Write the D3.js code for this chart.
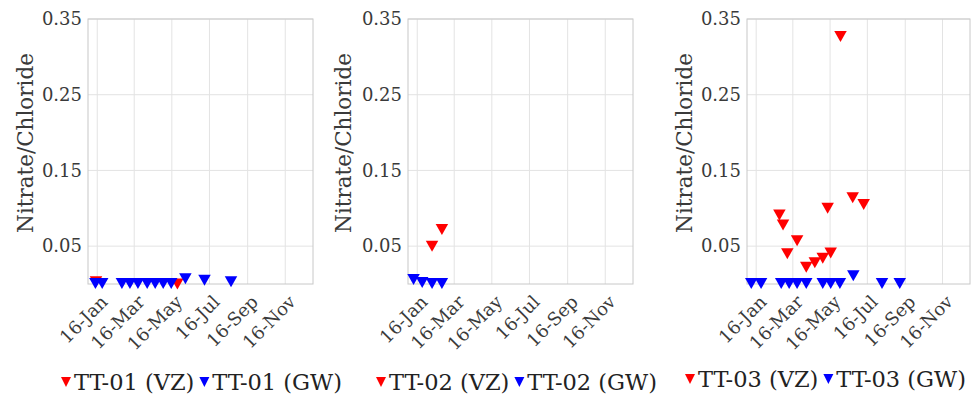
<!DOCTYPE html>
<html><head><meta charset="utf-8">
<script src="https://cdn.jsdelivr.net/npm/d3@7"></script>
<style>
html,body{margin:0;padding:0;background:#fff;}
svg{display:block;}
text{font-family:"DejaVu Serif","Liberation Serif",serif;}
</style></head>
<body>
<svg id="chart" width="971" height="396"></svg>
<script>
// ---------- data ----------
const yTicks = [0.05, 0.15, 0.25, 0.35];
const xTickDates = ["2016-01-01","2016-03-01","2016-05-01","2016-07-01","2016-09-01","2016-11-01"];
const xDomain = ["2015-12-17","2016-12-16"];
const yLabel = "Nitrate/Chloride";

const tt01VZDates = ["2015-12-30","2016-05-10"];
const tt01VZ = [0.003, 0.0];
const tt01GWDates = ["2015-12-29","2016-01-09","2016-02-10","2016-02-23","2016-03-07","2016-03-22","2016-04-04","2016-04-17","2016-04-30","2016-05-23","2016-06-23","2016-08-05"];
const tt01GW = [0.0005,0.0005,0.0005,0.0005,0.0005,0.0005,0.0005,0.0005,0.0005,0.007,0.005,0.003];

const tt02VZDates = ["2016-01-25","2016-02-10"];
const tt02VZ = [0.050, 0.072];
const tt02GWDates = ["2015-12-26","2016-01-09","2016-01-25","2016-02-10"];
const tt02GW = [0.006, 0.002, 0.0005, 0.0005];

const tt03VZDates = ["2016-02-08","2016-02-14","2016-02-21","2016-03-08","2016-03-23","2016-04-06","2016-04-19","2016-04-27","2016-05-02","2016-05-18","2016-06-07","2016-06-25"];
const tt03VZ = [0.091, 0.078, 0.040, 0.057, 0.022, 0.028, 0.034, 0.100, 0.041, 0.327, 0.114, 0.105];
const tt03GWDates = ["2015-12-24","2016-01-09","2016-02-11","2016-02-24","2016-03-08","2016-03-23","2016-04-19","2016-05-02","2016-05-17","2016-06-08","2016-07-25","2016-08-23"];
const tt03GW = [0.0005,0.0005,0.0005,0.0005,0.0005,0.0005,0.0005,0.0005,0.0005,0.011,0.0005,0.0005];

const seriesNames = [["TT-01 (VZ)","TT-01 (GW)"],["TT-02 (VZ)","TT-02 (GW)"],["TT-03 (VZ)","TT-03 (GW)"]];

// ---------- layout ----------
const FONT = '"DejaVu Serif","Liberation Serif",serif';
const parse = d3.utcParse("%Y-%m-%d");
const fmt = d3.utcFormat("%y-%b");
const svg = d3.select("#chart");
const plotTop = 19, plotBottom = 284;
const panels = [
  {left: 88, width: 225, vzD: tt01VZDates, vz: tt01VZ, gwD: tt01GWDates, gw: tt01GW, ylabX: 25, leg: {x: 66, y: 382}, names: seriesNames[0]},
  {left: 408, width: 225, vzD: tt02VZDates, vz: tt02VZ, gwD: tt02GWDates, gw: tt02GW, ylabX: 343, leg: {x: 381, y: 382}, names: seriesNames[1]},
  {left: 747, width: 223, vzD: tt03VZDates, vz: tt03VZ, gwD: tt03GWDates, gw: tt03GW, ylabX: 684, leg: {x: 690, y: 379}, names: seriesNames[2]}
];
const RED = "#ff0000", BLUE = "#0000ff";
function tri(w, h){ return `M${-w/2},${-h/2}L${w/2},${-h/2}L0,${h/2}Z`; }

panels.forEach(p => {
  const x = d3.scaleUtc().domain(xDomain.map(parse)).range([p.left, p.left + p.width]);
  const y = d3.scaleLinear().domain([0, 0.35]).range([plotBottom, plotTop]);
  const g = svg.append("g");

  // grid
  g.selectAll(".gx").data(xTickDates.map(parse)).join("line")
    .attr("x1", d => x(d)).attr("x2", d => x(d)).attr("y1", plotTop).attr("y2", plotBottom)
    .attr("stroke", "#e3e3e3").attr("stroke-width", 1);
  g.selectAll(".gy").data(yTicks).join("line")
    .attr("x1", p.left).attr("x2", p.left + p.width).attr("y1", d => y(d)).attr("y2", d => y(d))
    .attr("stroke", "#e3e3e3").attr("stroke-width", 1);
  // box
  g.append("rect").attr("x", p.left).attr("y", plotTop).attr("width", p.width).attr("height", plotBottom - plotTop)
    .attr("fill", "none").attr("stroke", "#c8c8c8").attr("stroke-width", 1);

  // y axis labels
  const yAxis = d3.axisLeft(y).tickValues(yTicks).tickFormat(d3.format(".2f")).tickSize(0).tickPadding(6);
  const ya = g.append("g").attr("transform", `translate(${p.left},0)`).call(yAxis);
  ya.attr("font-family", FONT);
  ya.select(".domain").remove();
  ya.selectAll("text").attr("font-size", 18).attr("fill", "#3a3a3a").style("font-family", FONT);

  // x axis labels
  const xAxis = d3.axisBottom(x).tickValues(xTickDates.map(parse)).tickFormat(fmt).tickSize(0);
  const xa = g.append("g").attr("transform", `translate(0,${plotBottom})`).call(xAxis);
  xa.attr("font-family", FONT);
  xa.select(".domain").remove();
  xa.selectAll("text").attr("font-size", 18).attr("fill", "#3a3a3a").style("font-family", FONT)
    .attr("text-anchor", "end").attr("dy", 0).attr("y", 0)
    .attr("transform", "translate(11,19) rotate(-45)");

  // y label
  g.append("text").attr("transform", `translate(${p.ylabX},143) rotate(-90)`)
    .attr("text-anchor", "middle").attr("dominant-baseline", "central")
    .style("font-family", FONT)
    .attr("font-size", 21.5).attr("fill", "#3a3a3a").text(yLabel);

  // markers
  const vzData = p.vzD.map((d, i) => ({d: parse(d), v: p.vz[i]}));
  const gwData = p.gwD.map((d, i) => ({d: parse(d), v: p.gw[i]}));
  g.selectAll(".vz").data(vzData).join("path")
    .attr("d", tri(12.5, 11)).attr("fill", RED)
    .attr("transform", d => `translate(${x(d.d)},${y(d.v)})`);
  g.selectAll(".gw").data(gwData).join("path")
    .attr("d", tri(12.5, 11)).attr("fill", BLUE)
    .attr("transform", d => `translate(${x(d.d)},${y(d.v)})`);

  // legend
  const lg = svg.append("g").attr("transform", `translate(${p.leg.x},${p.leg.y})`);
  lg.append("path").attr("d", tri(10, 10)).attr("fill", RED);
  const t1 = lg.append("text").attr("x", 8).attr("y", 8).style("font-family", FONT)
    .attr("font-size", 22.5).attr("fill", "#222").text(p.names[0]);
  const w1 = t1.node().getComputedTextLength();
  lg.append("path").attr("d", tri(10, 10)).attr("fill", BLUE).attr("transform", `translate(${8 + w1 + 10},0)`);
  lg.append("text").attr("x", 8 + w1 + 18).attr("y", 8).style("font-family", FONT)
    .attr("font-size", 22.5).attr("fill", "#222").text(p.names[1]);
});
</script>
</body></html>
